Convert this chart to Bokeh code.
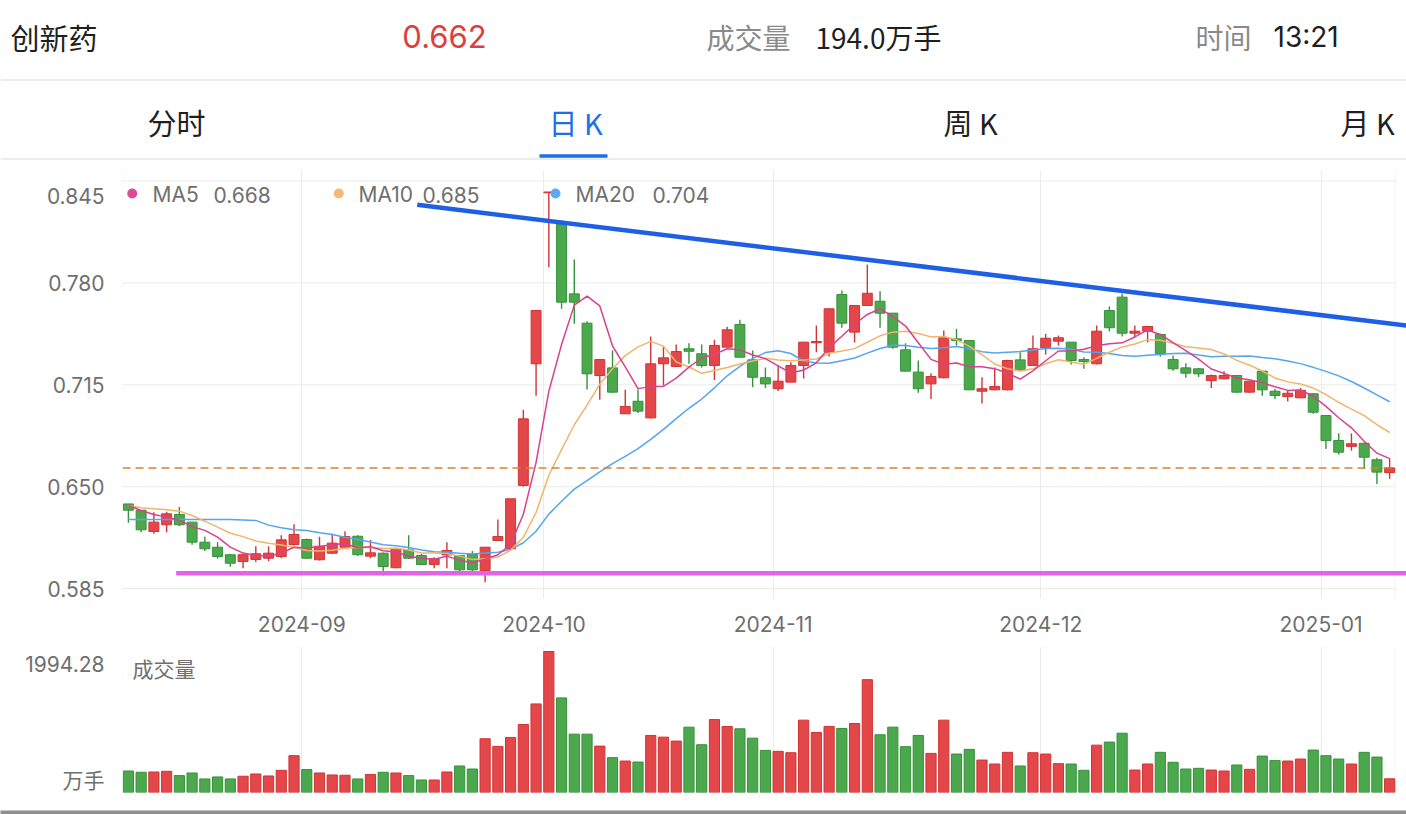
import numpy as np
import pandas as pd
from bokeh.plotting import figure
from bokeh.models import (Range1d, FixedTicker, CustomJSTickFormatter,
                          ColumnDataSource, BoxAnnotation)
from bokeh.layouts import column
from bokeh.embed import file_html
from bokeh.resources import INLINE
from bokeh.core.properties import value

# ---------------- data ----------------
trading_days = {
    "2024-08": [13, 14, 15, 16, 19, 20, 21, 22, 23, 26, 27, 28, 29, 30],
    "2024-09": [2, 3, 4, 5, 6, 9, 10, 11, 12, 13, 18, 19, 20, 23, 24, 25, 26, 27, 30],
    "2024-10": [8, 9, 10, 11, 14, 15, 16, 17, 18, 21, 22, 23, 24, 25, 28, 29, 30, 31],
    "2024-11": [1, 4, 5, 6, 7, 8, 11, 12, 13, 14, 15, 18, 19, 20, 21, 22, 25, 26, 27, 28, 29],
    "2024-12": [2, 3, 4, 5, 6, 9, 10, 11, 12, 13, 16, 17, 18, 19, 20, 23, 24, 25, 26, 27, 30, 31],
    "2025-01": [2, 3, 6, 7, 8, 9],
}
dates = [f"{m}-{d:02d}" for m, days in trading_days.items() for d in days]

open_ = [0.639, 0.635, 0.6214, 0.6257, 0.6323, 0.6274, 0.6146, 0.6114, 0.6066, 0.6023,
         0.6036, 0.6044, 0.6055, 0.6131, 0.6163, 0.6034, 0.6076, 0.6114, 0.6184, 0.6057,
         0.6076, 0.5983, 0.6097, 0.6061, 0.6004, 0.6065, 0.606, 0.607, 0.5965, 0.6157,
         0.6104, 0.6508, 0.7284, 0.8375, 0.8177, 0.773, 0.7543, 0.7209, 0.7258, 0.6965,
         0.7045, 0.6939, 0.7284, 0.7267, 0.738, 0.7348, 0.7273, 0.739, 0.7535, 0.7309,
         0.7195, 0.7125, 0.7167, 0.7273, 0.7418, 0.7358, 0.7726, 0.7486, 0.7656, 0.7683,
         0.7607, 0.7373, 0.7231, 0.7156, 0.7195, 0.7443, 0.7433, 0.7109, 0.7118, 0.7118,
         0.7309, 0.7273, 0.7386, 0.7428, 0.7422, 0.7311, 0.7284, 0.7624, 0.7709, 0.7479,
         0.7492, 0.7471, 0.7311, 0.7258, 0.7252, 0.7177, 0.7188, 0.7209, 0.7103, 0.7237,
         0.7109, 0.7075, 0.7067, 0.7093, 0.6954, 0.6795, 0.6757, 0.6777, 0.6672, 0.659]
high = [0.6392, 0.635, 0.6337, 0.634, 0.637, 0.6274, 0.618, 0.6146, 0.607, 0.607,
        0.612, 0.612, 0.619, 0.626, 0.617, 0.618, 0.620, 0.6216, 0.619, 0.616,
        0.608, 0.611, 0.619, 0.607, 0.605, 0.6146, 0.606, 0.609, 0.6114, 0.629,
        0.6423, 0.699, 0.7624, 0.838, 0.820, 0.795, 0.7555, 0.7311, 0.737, 0.7118,
        0.712, 0.7458, 0.739, 0.7407, 0.7415, 0.7407, 0.7437, 0.752, 0.7565, 0.7369,
        0.726, 0.7273, 0.7294, 0.7422, 0.7528, 0.7635, 0.7752, 0.7656, 0.7917, 0.7747,
        0.7607, 0.7415, 0.7305, 0.7224, 0.7496, 0.7507, 0.7433, 0.7198, 0.726, 0.731,
        0.7358, 0.7464, 0.7475, 0.7464, 0.7422, 0.7326, 0.7528, 0.765, 0.773, 0.7528,
        0.7522, 0.7475, 0.7337, 0.7288, 0.7258, 0.7215, 0.7237, 0.7209, 0.7175, 0.724,
        0.7124, 0.7114, 0.713, 0.7095, 0.6958, 0.6841, 0.684, 0.678, 0.6684, 0.668]
low = [0.627, 0.621, 0.620, 0.621, 0.625, 0.613, 0.609, 0.604, 0.599, 0.598,
       0.602, 0.6025, 0.6044, 0.6125, 0.604, 0.603, 0.607, 0.611, 0.606, 0.6044,
       0.5934, 0.598, 0.604, 0.600, 0.598, 0.598, 0.594, 0.595, 0.589, 0.6157,
       0.6104, 0.650, 0.708, 0.790, 0.7635, 0.754, 0.712, 0.7054, 0.710, 0.6965,
       0.697, 0.6935, 0.7146, 0.7265, 0.7284, 0.726, 0.718, 0.739, 0.7326, 0.7135,
       0.713, 0.711, 0.7167, 0.719, 0.7358, 0.733, 0.7514, 0.742, 0.7656, 0.7514,
       0.738, 0.7237, 0.710, 0.706, 0.719, 0.740, 0.7118, 0.703, 0.7115, 0.7115,
       0.7246, 0.727, 0.7343, 0.740, 0.728, 0.7252, 0.728, 0.749, 0.7458, 0.7454,
       0.742, 0.733, 0.724, 0.7195, 0.720, 0.713, 0.7185, 0.710, 0.710, 0.708,
       0.706, 0.7043, 0.7065, 0.6965, 0.674, 0.6705, 0.673, 0.6614, 0.6518, 0.655]
close = [0.635, 0.6225, 0.6274, 0.6327, 0.6257, 0.6146, 0.6104, 0.6055, 0.6012, 0.6066,
         0.6072, 0.6076, 0.6161, 0.6195, 0.6044, 0.612, 0.614, 0.6182, 0.6066, 0.6078,
         0.5991, 0.6104, 0.6044, 0.6004, 0.604, 0.6093, 0.597, 0.597, 0.6114, 0.6182,
         0.6423, 0.6933, 0.7624, 0.838, 0.7677, 0.7677, 0.722, 0.7311, 0.7103, 0.7012,
         0.6982, 0.7284, 0.7322, 0.7362, 0.7364, 0.7273, 0.7401, 0.7501, 0.7326, 0.7198,
         0.7156, 0.7173, 0.7273, 0.7422, 0.7426, 0.7635, 0.7543, 0.7656, 0.7734, 0.7607,
         0.739, 0.7237, 0.7125, 0.7203, 0.745, 0.7433, 0.7118, 0.7125, 0.7139, 0.7305,
         0.7246, 0.738, 0.7447, 0.745, 0.7305, 0.7299, 0.7492, 0.7514, 0.7479, 0.7492,
         0.7522, 0.7348, 0.7252, 0.7224, 0.722, 0.7209, 0.7209, 0.7103, 0.7173, 0.7118,
         0.7082, 0.7096, 0.7115, 0.6975, 0.6794, 0.672, 0.6774, 0.6688, 0.6593, 0.662]
volume = [304, 286, 290, 300, 239, 276, 192, 220, 192, 230,
          262, 234, 314, 521, 324, 276, 248, 244, 192, 254,
          286, 276, 239, 177, 177, 290, 375, 332, 760, 652,
          779, 962, 1253, 1994.28, 1338, 825, 825, 656, 493, 445,
          431, 807, 783, 727, 924, 676, 1032, 934, 901, 769,
          596, 582, 563, 1023, 849, 934, 906, 976, 1596, 817,
          924, 648, 807, 553, 1023, 544, 610, 459, 403, 568,
          375, 563, 544, 408, 403, 314, 670, 713, 839, 318,
          403, 568, 427, 332, 342, 318, 304, 389, 328, 515,
          451, 445, 473, 600, 521, 473, 403, 568, 501, 194.0]

# moving averages during the warm-up period (history before the first candle)
ma5_head = [0.638, 0.6348, 0.6323, 0.6306]
ma10_head = [0.638, 0.6366, 0.6359, 0.6353, 0.6344, 0.6316, 0.628, 0.6242, 0.6203]
ma20_head = [0.629, 0.629, 0.629, 0.629, 0.629, 0.629, 0.629, 0.629, 0.629, 0.6288,
             0.6285, 0.6255, 0.6238, 0.6225, 0.622, 0.6206, 0.6195, 0.6178, 0.6163]

# user-drawn lines (x in candle index units)
trend_x = [22.67, 100.32]
trend_y = [0.8298, 0.7528]
support_x = [3.75, 100.32]
support_y = [0.5948, 0.5948]

price_ticks = [0.585, 0.650, 0.715, 0.780, 0.845]

# ---------------- derived ----------------
n = len(dates)
idx = np.arange(n)
c = pd.Series(close)


def moving_average(win, head):
    m = c.rolling(win).mean().to_numpy()
    m[:win - 1] = head
    return m


ma5 = moving_average(5, ma5_head)
ma10 = moving_average(10, ma10_head)
ma20 = moving_average(20, ma20_head)

month_first = [i for i in range(1, n) if dates[i][:7] != dates[i - 1][:7]]
month_labels = [dates[i][:7] for i in month_first]
month_ticks = [i - 0.385 for i in month_first]

up = np.array(close) >= np.array(open_)
RED, RED_EDGE = "#E4474A", "#D03434"
GREEN, GREEN_EDGE = "#4CA84C", "#35913A"
src = ColumnDataSource(dict(
    x=idx, open=open_, high=high, low=low, close=close, vol=volume,
    top=np.maximum(open_, close), bottom=np.minimum(open_, close),
    fill=[RED if u else GREEN for u in up],
    edge=[RED_EDGE if u else GREEN_EDGE for u in up],
))

# layout helpers (pixel -> data for the fixed frame geometry)
X0PX, SLOT = 127.9, 12.74
Y845PX, PXU = 180.5, 1567.7


def xd(px):
    return (px - X0PX) / SLOT


def yd(py):
    return 0.845 - (py - Y845PX) / PXU


x_start, x_end_main, x_end_frame = xd(122), xd(1406), xd(1395)

NUM_FONT = "Inter"
CJK_FONT = "Noto Sans CJK SC"
AX_COLOR = "#6f6f6f"
GRID = "#ebebeb"

LOOKUP = """
    let best = 0, d = 1e18;
    for (let i = 0; i < tpos.length; i++) { const dd = Math.abs(tpos[i] - tick); if (dd < d) { d = dd; best = i; } }
    return tlab[best];
"""


def lookup_formatter(positions, labels):
    return CustomJSTickFormatter(args=dict(tpos=list(positions), tlab=list(labels)), code=LOOKUP)


# ---------------- header ----------------
hdr = figure(width=1406, height=160, x_range=Range1d(0, 1406), y_range=Range1d(160, 0),
             toolbar_location=None, output_backend="svg", min_border=0,
             min_border_left=0, min_border_right=0, min_border_top=0, min_border_bottom=0,
             x_axis_location=None, y_axis_location=None)
hdr.grid.visible = False
hdr.outline_line_color = None


def htext(x, y, t, color, size, font=CJK_FONT, align="left"):
    hdr.text(x=[x], y=[y], text=[t], text_color=color, text_font=value(font),
             text_font_size=size, text_align=align, text_baseline="middle")


htext(10, 36, "创新药", "#1f1f1f", "29px")
htext(444, 36, f"{close[-1]:.3f}", "#E03C3C", "31px", NUM_FONT, "center")
htext(706, 36, "成交量", "#8a8a8a", "28px")
htext(815, 36, f"{volume[-1]:.1f}万手", "#1f1f1f", "28px")
htext(1195, 36, "时间", "#8a8a8a", "28px")
htext(1273, 36, "13:21", "#1f1f1f", "28px", NUM_FONT)
htext(176, 121, "分时", "#1f1f1f", "29px", align="center")
htext(575, 121, "日 K", "#1E6EEB", "29px", align="center")
htext(970, 121, "周 K", "#1f1f1f", "29px", align="center")
htext(1367, 121, "月 K", "#1f1f1f", "29px", align="center")
hdr.segment(x0=[0, 0], x1=[1406, 1406], y0=[79.5, 158.5], y1=[79.5, 158.5],
            line_color="#e6e6e6", line_width=1.5)
hdr.segment(x0=[539], x1=[607], y0=[155.5], y1=[155.5], line_color="#1E6EEB", line_width=3.5)

# ---------------- price chart ----------------
p = figure(width=1406, height=480, x_range=Range1d(x_start, x_end_main),
           y_range=Range1d(yd(598), yd(170)), toolbar_location=None, output_backend="svg",
           min_border_left=122, min_border_right=0, min_border_top=10, min_border_bottom=42)
p.outline_line_color = None
p.background_fill_color = "white"

# tick labels: the top one sits a little below its grid line, as in the app
label_pos = price_ticks[:-1] + [yd(195)]
p.yaxis.ticker = FixedTicker(ticks=label_pos)
p.yaxis.formatter = lookup_formatter(label_pos, [f"{t:.3f}" for t in price_ticks])
p.xaxis.ticker = FixedTicker(ticks=month_ticks)
p.xaxis.formatter = lookup_formatter(month_ticks, month_labels)
for ax in (p.xaxis[0], p.yaxis[0]):
    ax.axis_line_color = None
    ax.major_tick_line_color = None
    ax.minor_tick_line_color = None
    ax.major_label_text_font = NUM_FONT
    ax.major_label_text_font_size = "21px"
    ax.major_label_text_color = AX_COLOR
p.yaxis.major_label_standoff = 12
p.xaxis.major_label_standoff = 11
p.xgrid.grid_line_color = GRID
p.ygrid.visible = False

# frame box and horizontal grid lines (at the price ticks) ending at the frame edge
p.add_layout(BoxAnnotation(left=x_start, right=x_end_frame, fill_alpha=0,
                           line_color="#e2e2e2", line_width=1.2, level="underlay"))
p.segment(x0=[x_start] * len(price_ticks), x1=[x_end_frame] * len(price_ticks),
          y0=price_ticks, y1=price_ticks, line_color=GRID, line_width=1, level="underlay")

# candles
p.segment(x0="x", y0="low", x1="x", y1="high", line_color="edge", line_width=1.4, source=src)
p.vbar(x="x", width=0.78, top="top", bottom="bottom", fill_color="fill",
       line_color="edge", line_width=1, source=src)

# moving averages
MA_COLORS = ["#D8418F", "#F0B46C", "#54A5EE"]
p.line(idx, ma20, line_color=MA_COLORS[2], line_width=1.5)
p.line(idx, ma10, line_color=MA_COLORS[1], line_width=1.5)
p.line(idx, ma5, line_color=MA_COLORS[0], line_width=1.5)

# last price dashed line
p.segment(x0=[x_start], x1=[x_end_frame], y0=[close[-1]], y1=[close[-1]],
          line_color="#D7832F", line_width=1.5, line_dash="8 5")

# drawn lines
p.line(support_x, support_y, line_color="#E362E8", line_width=4.5)
p.line(trend_x, trend_y, line_color="#1F5FE5", line_width=4.5)

# legend
leg_y = yd(194)
dots_px = [131.7, 338.3, 555.0]
name_px = [152, 358, 575]
val_px = [213, 422, 652]
names = ["MA5", "MA10", "MA20"]
vals = [f"{ma5[-1]:.3f}", f"{ma10[-1]:.3f}", f"{ma20[-1]:.3f}"]
p.scatter(x=[xd(v) for v in dots_px], y=[yd(193)] * 3, size=10,
          fill_color=["#DD4A95", "#F2BA74", "#5DAAF2"], line_color=None)
p.text(x=[xd(v) for v in name_px], y=[leg_y] * 3, text=names, text_color=AX_COLOR,
       text_font=value(NUM_FONT), text_font_size="21px", text_baseline="middle")
p.text(x=[xd(v) for v in val_px], y=[leg_y] * 3, text=vals, text_color=AX_COLOR,
       text_font=value(NUM_FONT), text_font_size="21px", text_baseline="middle")

# ---------------- volume chart ----------------
vmax = max(volume)
vol_top = vmax * 145 / 141
v = figure(width=1406, height=160, x_range=Range1d(x_start, x_end_main),
           y_range=Range1d(0, vol_top), toolbar_location=None, output_backend="svg",
           min_border_left=122, min_border_right=0, min_border_top=7, min_border_bottom=8,
           x_axis_location=None)
v.outline_line_color = None
v.add_layout(BoxAnnotation(left=x_start, right=x_end_frame, fill_alpha=0,
                           line_color="#e2e2e2", line_width=1.2, level="underlay"))
v.xgrid.ticker = FixedTicker(ticks=month_ticks)
v.xgrid.grid_line_color = GRID
v.ygrid.visible = False


def vol_at(py):
    return vol_top * (792 - py) / 145


# max and unit labels sit just inside the range (below the max, above zero)
vol_label_pos = [vol_at(780), vol_at(664)]
v.yaxis.ticker = FixedTicker(ticks=vol_label_pos)
v.yaxis.formatter = lookup_formatter(vol_label_pos, ["万手", f"{vmax:.2f}"])
v.yaxis.axis_line_color = None
v.yaxis.major_tick_line_color = None
v.yaxis.minor_tick_line_color = None
v.yaxis.major_label_text_font = "Inter, 'Noto Sans CJK SC'"
v.yaxis.major_label_text_font_size = "21px"
v.yaxis.major_label_text_color = AX_COLOR
v.yaxis.major_label_standoff = 12

v.vbar(x="x", width=0.8, top="vol", bottom=0, fill_color="fill", line_color="edge",
       line_width=1, source=src)
v.text(x=[xd(132)], y=[vol_at(667)], text=["成交量"], text_color=AX_COLOR,
       text_font=value(CJK_FONT), text_font_size="21px", text_baseline="middle")

# thin grey strip at the very bottom of the screen (a 4 px high frame below a white border)
bar = figure(width=1406, height=14, toolbar_location=None, output_backend="svg",
             x_range=Range1d(0, 1), y_range=Range1d(0, 1),
             min_border=0, min_border_left=0, min_border_right=0, min_border_top=10,
             min_border_bottom=0, x_axis_location=None, y_axis_location=None)
bar.grid.visible = False
bar.outline_line_color = None
bar.background_fill_color = "#8e8e8e"
bar.border_fill_color = "white"

layout = column(hdr, column(p, v, spacing=0), bar, spacing=0)
open("out.html", "w").write(file_html(layout, INLINE))
